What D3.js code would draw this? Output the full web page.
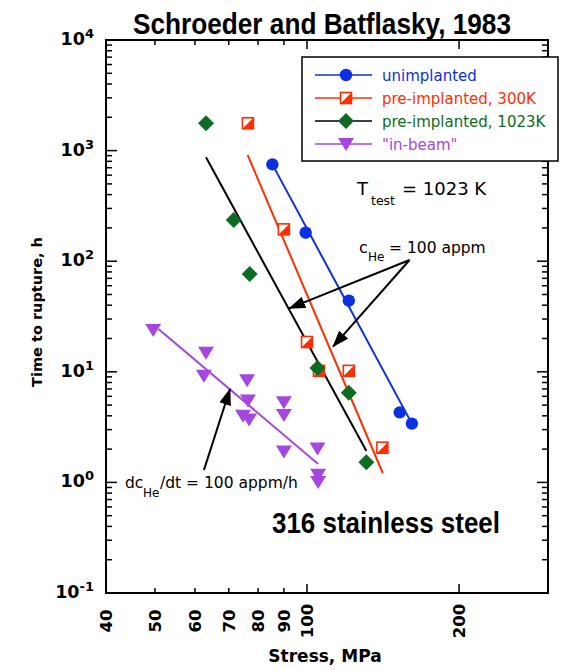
<!DOCTYPE html>
<html><head><meta charset="utf-8">
<script src="https://cdn.jsdelivr.net/npm/d3@7"></script>
<style>html,body{margin:0;padding:0;background:#fff;}svg{display:block;}</style>
</head><body>
<svg id="c" width="563" height="670"></svg>
<script>
// ---- data (stress MPa, time to rupture h) ----
const unimplanted = [[85.4,751],[99.4,181],[121,44],[152.6,4.3],[161.3,3.4]];
const pre300 = [[76.4,1766],[90.0,194],[100,18.6],[105.6,10.2],[121,10.2],[141,2.06]];
const pre1023 = [[63.1,1766],[71.6,236],[77.0,76.6],[104.9,10.8],[121,6.47],[131.1,1.52]];
const inBeam = [[49.6,23.9],[63.1,14.9],[62.5,9.2],[76.1,8.4],[76.4,5.5],[74.7,4.0],[76.8,3.7],
                [90.0,5.3],[90.0,4.07],[90.0,1.9],[104.9,2.03],[105.2,1.17],[105.2,1.01]];
const fitUnimplanted = [[85.4,751],[161.3,3.4]];
const fit300 = [[76.3,912],[141.3,1.21]];
const fit1023 = [[63.1,869],[131.1,1.92]];
const fitInBeam = [[50.8,24.4],[105.2,1.47]];
const arrows = [[[159.6,102.6],[92.2,37.5]],[[159.6,102.6],[112.6,16.9]],[[62.5,1.29],[70.4,6.99]]];
const xTicks = [40,50,60,70,80,90,100,200];
const xMajor = [100,200];
const yDecades = [-1,0,1,2,3,4];
const legendLabels = ["unimplanted","pre-implanted, 300K","pre-implanted, 1023K","\"in-beam\""];

const BLUE="#0b2fe3", RED="#ff2e00", GREEN="#0d6b23", BLACK="#000", PURPLE="#a646e0";
const svg = d3.select("#c");
const x = d3.scaleLog().domain([40,300]).range([106,548]);
const y = d3.scaleLog().domain([0.1,1e4]).range([593,40]);
const L=106,R=548,T=40,B=593;
const SANS="'DejaVu Sans', Verdana, sans-serif";
const NARROW="'Liberation Sans Narrow','Arial Narrow','Liberation Sans',Arial,sans-serif";

// defs
const defs = svg.append("defs");
defs.append("marker").attr("id","ah").attr("viewBox","0 0 17 12").attr("refX",16).attr("refY",6)
  .attr("markerWidth",17).attr("markerHeight",12).attr("markerUnits","userSpaceOnUse").attr("orient","auto")
  .append("path").attr("d","M0,0 L17,6 L0,12 Z").attr("fill","#000");

// ---- axes ----
const g = svg.append("g");
const yTickVals=[];
for(let e=-1;e<4;e++){for(let m=1;m<10;m++){yTickVals.push(m*Math.pow(10,e));}}
yTickVals.push(1e4);
yTickVals.forEach(v=>{
  const major = Math.abs(Math.log10(v)-Math.round(Math.log10(v)))<1e-9;
  const len = major?11:6;
  g.append("line").attr("x1",L).attr("x2",L+len).attr("y1",y(v)).attr("y2",y(v)).attr("stroke","#000").attr("stroke-width",1.5);
  g.append("line").attr("x1",R).attr("x2",R-len).attr("y1",y(v)).attr("y2",y(v)).attr("stroke","#000").attr("stroke-width",1.5);
});
xTicks.forEach(v=>{
  const len = xMajor.includes(v)?9:5;
  g.append("line").attr("x1",x(v)).attr("x2",x(v)).attr("y1",B).attr("y2",B-len).attr("stroke","#000").attr("stroke-width",1.5);
  g.append("line").attr("x1",x(v)).attr("x2",x(v)).attr("y1",T).attr("y2",T+len).attr("stroke","#000").attr("stroke-width",1.5);
});
g.append("rect").attr("x",L).attr("y",T).attr("width",R-L).attr("height",B-T).attr("fill","none").attr("stroke","#000").attr("stroke-width",2);

// y tick labels
yDecades.forEach(e=>{
  const t = g.append("text").attr("x",94).attr("y",y(Math.pow(10,e))+5).attr("text-anchor","end")
    .attr("font-family",SANS).attr("font-weight","bold").attr("font-size",17.5).attr("fill","#000");
  t.append("tspan").text("10");
  t.append("tspan").attr("dy",-7).attr("font-size",13).text(String(e));
});
// x tick labels
xTicks.forEach(v=>{
  g.append("text").attr("transform",`translate(${x(v)},621) rotate(-90)`).attr("dy","0.36em")
    .attr("text-anchor","middle").attr("font-family",SANS).attr("font-weight","bold").attr("font-size",16.5)
    .text(v);
});
// axis titles
g.append("text").attr("transform","translate(42,312) rotate(-90)").attr("text-anchor","middle")
  .attr("font-family",SANS).attr("font-weight","bold").attr("font-size",14.5).text("Time to rupture, h");
g.append("text").attr("x",325).attr("y",662).attr("text-anchor","middle")
  .attr("font-family",SANS).attr("font-weight","bold").attr("font-size",17).text("Stress, MPa");

// title
svg.append("text").attr("x",133).attr("y",34).attr("font-family",NARROW)
  .attr("font-weight","bold").attr("font-size",29).attr("textLength",378).attr("lengthAdjust","spacingAndGlyphs")
  .text("Schroeder and Batflasky, 1983");

// ---- fit lines ----
const line = d3.line().x(d=>x(d[0])).y(d=>y(d[1]));
const plot = svg.append("g");
[[fitInBeam,PURPLE],[fit1023,BLACK],[fit300,RED],[fitUnimplanted,BLUE]].forEach(([d,c])=>{
  plot.append("path").datum(d).attr("d",line).attr("fill","none").attr("stroke",c).attr("stroke-width",2);
});

// ---- markers ----
function circle(sel,cx,cy){sel.append("circle").attr("cx",cx).attr("cy",cy).attr("r",6.2).attr("fill",BLUE);}
function square(sel,cx,cy){
  const s=5.5;
  sel.append("rect").attr("x",cx-s).attr("y",cy-s).attr("width",2*s).attr("height",2*s).attr("fill","#fff").attr("stroke",RED).attr("stroke-width",1.6);
  sel.append("path").attr("d",`M${cx+s},${cy-s} L${cx+s},${cy+s} L${cx-s},${cy+s} Z`).attr("fill",RED);
}
function diamond(sel,cx,cy){
  const s=8;
  sel.append("path").attr("d",`M${cx},${cy-s} L${cx+s},${cy} L${cx},${cy+s} L${cx-s},${cy} Z`).attr("fill",GREEN);
}
function tri(sel,cx,cy){
  sel.append("path").attr("d",`M${cx-8},${cy-6} L${cx+8},${cy-6} L${cx},${cy+7} Z`).attr("fill",PURPLE);
}
inBeam.forEach(d=>tri(plot,x(d[0]),y(d[1])));
pre300.forEach(d=>square(plot,x(d[0]),y(d[1])));
pre1023.forEach(d=>diamond(plot,x(d[0]),y(d[1])));
unimplanted.forEach(d=>circle(plot,x(d[0]),y(d[1])));

// ---- arrows ----
arrows.forEach(a=>{
  plot.append("line").attr("x1",x(a[0][0])).attr("y1",y(a[0][1])).attr("x2",x(a[1][0])).attr("y2",y(a[1][1]))
    .attr("stroke","#000").attr("stroke-width",2).attr("marker-end","url(#ah)");
});

// ---- annotations ----
const ann = svg.append("g").attr("font-family",SANS).attr("fill","#000");
ann.append("text").attr("x",357).attr("y",195).attr("font-size",18).text("T");
ann.append("text").attr("x",371).attr("y",205).attr("font-size",12.5).text("test");
ann.append("text").attr("x",402).attr("y",195).attr("font-size",18).text("=  1023 K");
ann.append("text").attr("x",359).attr("y",253).attr("font-size",16).text("c");
ann.append("text").attr("x",368).attr("y",261).attr("font-size",12).text("He");
ann.append("text").attr("x",389).attr("y",253).attr("font-size",15.5).text("= 100 appm");
ann.append("text").attr("x",125).attr("y",488).attr("font-size",15.5).text("dc");
ann.append("text").attr("x",143).attr("y",497).attr("font-size",12).text("He");
ann.append("text").attr("x",160).attr("y",488).attr("font-size",15.5).text("/dt = 100 appm/h");
svg.append("text").attr("x",272).attr("y",533).attr("font-family",NARROW)
  .attr("font-weight","bold").attr("font-size",29).attr("textLength",228).attr("lengthAdjust","spacingAndGlyphs")
  .text("316 stainless steel");

// ---- legend ----
const lg = svg.append("g");
lg.append("rect").attr("x",302).attr("y",57).attr("width",256).attr("height",104).attr("fill","#fff").attr("stroke","#000").attr("stroke-width",1.5);
const legLine=[BLUE,RED,BLACK,PURPLE], legText=[BLUE,RED,GREEN,PURPLE], legMark=[circle,square,diamond,tri];
legendLabels.forEach((lab,i)=>{
  const yy = 75+i*23;
  lg.append("line").attr("x1",315).attr("x2",372).attr("y1",yy).attr("y2",yy).attr("stroke",legLine[i]).attr("stroke-width",1.5);
  legMark[i](lg,346,yy);
  lg.append("text").attr("x",382).attr("y",yy+5.5).attr("font-family",SANS).attr("font-size",15).attr("fill",legText[i]).text(lab);
});
</script>
</body></html>
